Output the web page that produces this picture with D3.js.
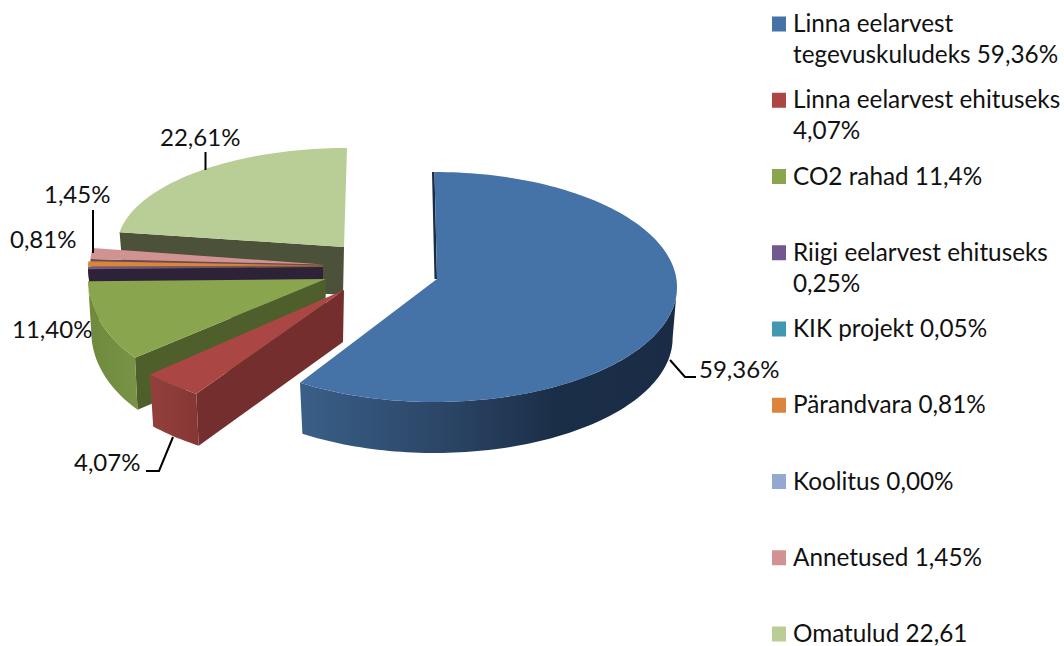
<!DOCTYPE html>
<html>
<head>
<meta charset="utf-8">
<script src="https://cdn.jsdelivr.net/npm/d3@7"></script>
<style>
    html, body { margin: 0; padding: 0; background: #fff; }
    svg { display: block; }
    text { font-family: Lato, "Open Sans", sans-serif; fill: #111; }
</style>
</head>
<body>
<svg id="chart" width="1064" height="646"></svg>
<script>
// chart data, clockwise from 12 o'clock
const categories = ["Linna eelarvest tegevuskuludeks", "Linna eelarvest ehituseks", "CO2 rahad",
    "Riigi eelarvest ehituseks", "KIK projekt", "Pärandvara", "Koolitus", "Annetused", "Omatulud"];
const shares = [59.36, 4.07, 11.40, 0.25, 0.05, 0.81, 0.00, 1.45, 22.61];
const colors = ["#4572A7", "#AA4643", "#89A54E", "#71588F", "#4198AF", "#DB843D", "#93A9CF", "#D19392", "#B9CD96"];
const wallColors = ["#1a2c45", "#742e2d", "#4f5f2b", "#2e2239", "#2e2239", "#8a5a30", "#555", "#6b4a50", "#4c5139"];
const legendLines = [
    ["Linna eelarvest", "tegevuskuludeks 59,36%"],
    ["Linna eelarvest ehituseks", "4,07%"],
    ["CO2 rahad 11,4%"],
    ["Riigi eelarvest ehituseks", "0,25%"],
    ["KIK projekt 0,05%"],
    ["Pärandvara 0,81%"],
    ["Koolitus 0,00%"],
    ["Annetused 1,45%"],
    ["Omatulud 22,61"]
];

// exploded pie: every piece has its own ellipse and apex, depth is the wall height
const thin = {cx: 323, cy: 268, rx: 235, ry: 108, ax: 323, ay: 267, depth: 50};
const pieces = [
    {cx: 434.5, cy: 287, rx: 242.5, ry: 115, ax: 437, ay: 279, depth: 51, wall: [-2.5, 0]},
    {cx: 330, cy: 298, rx: 241, ry: 115, ax: 344, ay: 290, depth: 52},
    {cx: 274, cy: 280, rx: 186, ry: 117, ax: 326, ay: 279, depth: 52},
    thin,
    thin,
    {cx: 323, cy: 267.5, rx: 235, ry: 108, ax: 323, ay: 265.5, depth: 50},
    thin,
    {cx: 323, cy: 266, rx: 233, ry: 120, ax: 323, ay: 264.5, depth: 50},
    {cx: 347, cy: 247, rx: 230, ry: 99, ax: 344, ay: 247, depth: 48}
];

// data labels and their leader lines
const dataLabels = [
    {i: 0, x: 699, y: 378, line: [[670, 360], [685, 377], [696, 377]]},
    {i: 1, x: 74, y: 471, line: [[173, 437], [159, 471], [146, 471]]},
    {i: 2, x: 12, y: 338},
    {i: 5, x: 10, y: 248},
    {i: 7, x: 44, y: 203, line: [[93, 210], [93, 253]]},
    {i: 8, x: 160, y: 146, line: [[205.5, 152], [205.5, 170]]}
];

const svg = d3.select("#chart");
const defs = svg.append("defs");
const fmt = v => v.toFixed(2).replace(".", ",") + "%";
const line = d3.line();

const arcs = d3.pie().sort(null).value(d => d)(shares);

// side gradients for the outer walls
function addGradient(id, x1, x2, stops) {
    let g = defs.append("linearGradient").attr("id", id)
        .attr("gradientUnits", "userSpaceOnUse")
        .attr("x1", x1).attr("x2", x2).attr("y1", 0).attr("y2", 0);
    stops.forEach(s => g.append("stop").attr("offset", s[0]).attr("stop-color", s[1]));
}
addGradient("sideBlue", 301, 677, [[0, "#3a5f88"], [0.4, "#2a4464"], [0.68, "#1b2e48"], [1, "#1a2c45"]]);
addGradient("sideRed", 150, 197, [[0, "#93403d"], [1, "#853735"]]);
addGradient("sideGreen", 90, 140, [[0, "#6f8a3c"], [1, "#7a9447"]]);
const sideFill = {0: "url(#sideBlue)", 1: "url(#sideRed)", 2: "url(#sideGreen)"};

// points on the rim ellipse, the lower rim is a bit narrower than the upper one
function rimPoints(p, a0, a1, shrink, dy) {
    let x = d3.scaleLinear().domain([-1, 1]).range([p.cx - p.rx * shrink, p.cx + p.rx * shrink]);
    let y = d3.scaleLinear().domain([-1, 1]).range([p.cy - p.ry + dy, p.cy + p.ry + dy]);
    let n = Math.max(2, Math.ceil((a1 - a0) * 40));
    return d3.range(n + 1).map(k => {
        let a = a0 + (a1 - a0) * k / n;
        return [x(Math.sin(a)), y(-Math.cos(a))];
    });
}

const pieGroup = svg.append("g");

// back to front: Omatulud first, Linna eelarvest last
d3.range(arcs.length - 1, -1, -1).forEach(i => {
    let d = arcs[i], p = pieces[i];
    let g = pieGroup.append("g").attr("class", "slice");
    if (d.endAngle - d.startAngle <= 0) return;

    // radial wall at the start angle
    let v = p.wall || [-1, p.depth];
    let a = rimPoints(p, d.startAngle, d.startAngle, 1, 0)[0];
    let b = p.wall ? [a[0] + v[0], a[1]] : rimPoints(p, d.startAngle, d.startAngle, 0.982, p.depth)[0];
    g.append("path")
        .attr("d", line([a, [p.ax, p.ay], [p.ax + v[0], p.ay + v[1]], b]) + "Z")
        .attr("fill", wallColors[i]);

    // outer wall, only the front half of the rim shows
    let f0 = Math.max(d.startAngle, Math.PI / 2), f1 = Math.min(d.endAngle, 3 * Math.PI / 2);
    if (f1 > f0 && sideFill[i]) {
        let top = rimPoints(p, f0, f1, 1, 0);
        let bottom = rimPoints(p, f0, f1, 0.982, p.depth).reverse();
        g.append("path").attr("d", line(top.concat(bottom)) + "Z").attr("fill", sideFill[i]);
    }

    // top face
    g.append("path")
        .attr("d", line([[p.ax, p.ay]].concat(rimPoints(p, d.startAngle, d.endAngle, 1, 0))) + "Z")
        .attr("fill", colors[i]);
});

// data labels
const labels = svg.append("g");
dataLabels.forEach(l => {
    if (l.line) {
        labels.append("path").attr("d", line(l.line))
            .attr("fill", "none").attr("stroke", "#000").attr("stroke-width", 2);
    }
    labels.append("text").attr("x", l.x).attr("y", l.y)
        .attr("font-size", 24).text(fmt(shares[l.i]));
});

// legend
const legendY = d3.scalePoint().domain(categories).range([24, 634]);
const legend = svg.append("g").selectAll("g").data(categories).join("g")
    .attr("transform", d => `translate(772,${legendY(d)})`);
legend.append("rect").attr("y", -7.5).attr("width", 14).attr("height", 15)
    .attr("fill", (d, i) => colors[i]);
legend.append("text").attr("font-size", 24.3)
    .selectAll("tspan").data((d, i) => legendLines[i]).join("tspan")
    .attr("x", 21).attr("y", (d, i) => 8 + i * 31)
    .text(d => d);
</script>
</body>
</html>
